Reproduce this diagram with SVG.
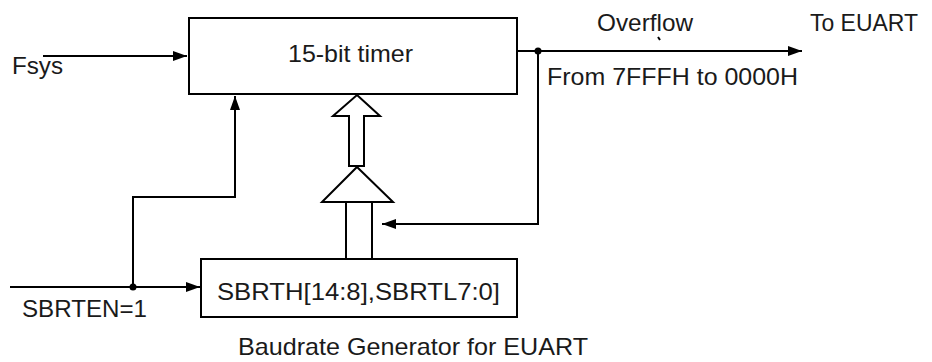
<svg xmlns="http://www.w3.org/2000/svg" width="932" height="362" viewBox="0 0 932 362">
<style>
  .box { fill: #ffffff; stroke: #000000; stroke-width: 2; }
  .ln { fill: none; stroke: #000000; stroke-width: 2; }
  .hol { fill: #ffffff; stroke: #000000; stroke-width: 2; stroke-linejoin: miter; }
  .t { font-family: "Liberation Sans", Arial, sans-serif; font-size: 24px; fill: #1a1a1a; }
  .dot { fill: #000000; }
</style>
<defs>
  <marker id="arr" markerUnits="userSpaceOnUse" markerWidth="15" markerHeight="11" refX="14" refY="5.5" orient="auto">
    <path d="M0,0.5 L14,5.5 L0,10.5 z" fill="#000000"/>
  </marker>
</defs>
<rect width="932" height="362" fill="#ffffff"/>

<g id="timer">
  <rect class="box" x="189" y="18" width="328" height="76"/>
  <text class="t" x="288" y="62" textLength="125" lengthAdjust="spacingAndGlyphs">15-bit timer</text>
</g>

<g id="reload">
  <rect class="box" x="201" y="259" width="316" height="58"/>
  <text class="t" x="217" y="300" textLength="283" lengthAdjust="spacingAndGlyphs">SBRTH[14:8],SBRTL7:0]</text>
</g>

<g id="labels">
  <text class="t" x="12" y="74" textLength="51" lengthAdjust="spacingAndGlyphs">Fsys</text>
  <text class="t" x="597" y="31" textLength="96" lengthAdjust="spacingAndGlyphs">Overflow</text>
  <text class="t" x="810" y="31" textLength="108" lengthAdjust="spacingAndGlyphs">To EUART</text>
  <text class="t" x="547" y="85" textLength="251" lengthAdjust="spacingAndGlyphs">From 7FFFH to 0000H</text>
  <text class="t" x="22" y="317" textLength="125" lengthAdjust="spacingAndGlyphs">SBRTEN=1</text>
  <text class="t" x="238" y="355" textLength="350" lengthAdjust="spacingAndGlyphs">Baudrate Generator for EUART</text>
</g>

<g id="connectors">
  <!-- Fsys into timer -->
  <line class="ln" x1="43" y1="56" x2="187" y2="56" marker-end="url(#arr)"/>
  <!-- Overflow out to EUART -->
  <line class="ln" x1="517" y1="51" x2="802" y2="51" marker-end="url(#arr)"/>
  <circle class="dot" cx="538" cy="51" r="3.5"/>
  <path class="ln" d="M658,37 L660,40" stroke-width="1"/>
  <!-- Overflow feedback to reload path -->
  <path class="ln" d="M538,51 L538,224 L382,224" marker-end="url(#arr)"/>
  <!-- SBRTEN into reload register -->
  <line class="ln" x1="10" y1="287" x2="200" y2="287" marker-end="url(#arr)"/>
  <circle class="dot" cx="133" cy="287" r="3.5"/>
  <!-- SBRTEN enable to timer -->
  <path class="ln" d="M133,287 L133,197 L235,197 L235,96" marker-end="url(#arr)"/>
  <!-- hollow reload arrow: register -> gate -> timer -->
  <line class="ln" x1="346" y1="202" x2="346" y2="259"/>
  <line class="ln" x1="372" y1="202" x2="372" y2="259"/>
  <polygon class="hol" points="357,167 393,202 322,202"/>
  <polygon class="hol" points="357,95 380,116 364,116 364,166 349,166 349,116 333,116"/>
</g>
</svg>
